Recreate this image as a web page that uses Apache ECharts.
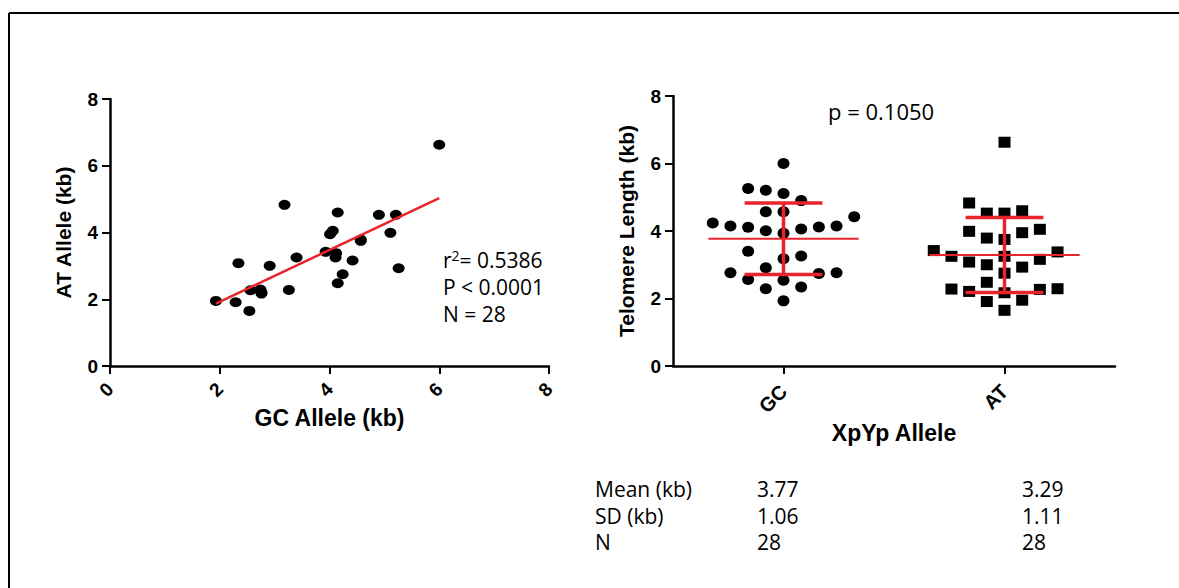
<!DOCTYPE html>
<html>
<head>
<meta charset="utf-8">
<script src="https://cdn.jsdelivr.net/npm/echarts@6/dist/echarts.min.js"></script>
<style>
  html, body { margin: 0; padding: 0; background: #ffffff; }
  #chart { width: 1179px; height: 588px; }
</style>
</head>
<body>
<div id="chart"></div>
<script>
// Paired telomere lengths (kb) per sample: GC allele and AT allele
const gcAllele = [1.93, 2.29, 2.54, 2.34, 2.56, 2.74, 2.76, 2.76, 2.91, 3.18, 3.26, 3.40, 3.93, 4.01,
                  4.06, 4.15, 4.11, 4.12, 4.24, 4.15, 4.42, 4.57, 4.57, 4.90, 5.11, 5.21, 5.26, 6.00];
const atAllele = [1.95, 1.91, 1.65, 3.08, 2.27, 2.29, 2.17, 2.21, 3.00, 4.83, 2.28, 3.25, 3.42, 3.95,
                  4.05, 4.60, 3.25, 3.38, 2.75, 2.48, 3.16, 3.79, 3.75, 4.53, 3.99, 4.53, 2.93, 6.63];

// Linear regression (AT vs GC) and its reported statistics
const fitSlope = 0.777;
const fitIntercept = 0.37;
const fitR2 = '0.5386';
const fitP = '< 0.0001';
const fitN = 28;

// Group comparison
const groupNames = ['GC', 'AT'];
const groupP = '0.1050';
const statLabels = ['Mean (kb)', 'SD (kb)', 'N'];
const groupMeans = [3.77, 3.29];
const groupSDs = [1.06, 1.11];
const groupNs = [28, 28];

// Axis ticks
const axisMin = 0, axisMax = 8, axisStep = 2;

const RED = '#e8232a';
const BOLD = '"Liberation Sans", Arial, sans-serif';
const PLAIN = '"Open Sans", sans-serif';

// Beeswarm-style spreading: each point takes the nearest free column slot
function swarm(values, center, slotWidth, minGap) {
  const order = values.map((v, i) => i).sort((a, b) => values[a] - values[b]);
  const placed = {};
  const out = new Array(values.length);
  order.forEach(i => {
    const v = values[i];
    for (let k = 0; k < 40; k++) {
      const slot = k === 0 ? 0 : (k % 2 ? -Math.ceil(k / 2) : Math.ceil(k / 2));
      const list = placed[slot] || (placed[slot] = []);
      if (list.every(u => Math.abs(u - v) >= minGap)) {
        list.push(v);
        out[i] = [center + slot * slotWidth, v];
        break;
      }
    }
  });
  return out;
}

const scatterPairs = gcAllele.map((g, i) => [g, atAllele[i]]);
const xMinFit = Math.min(...gcAllele), xMaxFit = Math.max(...gcAllele);
const fitLine = [[xMinFit, fitIntercept + fitSlope * xMinFit], [xMaxFit, fitIntercept + fitSlope * xMaxFit]];

const gcSwarm = swarm(gcAllele, 0.5, 0.08, 0.5);
const atSwarm = swarm(atAllele, 1.5, 0.08, 0.5);
const summaryData = groupMeans.map((m, i) => [i + 0.5, m, groupSDs[i]]);

const axisLineStyle = { show: true, lineStyle: { color: '#000', width: 2.5 } };
const axisTickStyle = { show: true, length: 8, lineStyle: { color: '#000', width: 2 } };

function valueYAxis(gridIndex, name) {
  return {
    type: 'value', gridIndex, min: axisMin, max: axisMax, interval: axisStep,
    name, nameLocation: 'middle', nameGap: 36, nameRotate: 90,
    nameTextStyle: { fontFamily: BOLD, fontWeight: 'bold', fontSize: 21, color: '#000' },
    axisLine: axisLineStyle, axisTick: axisTickStyle, splitLine: { show: false },
    axisLabel: { fontFamily: BOLD, fontWeight: 'bold', fontSize: 19, color: '#000', margin: 12 }
  };
}

const chart = echarts.init(document.getElementById('chart'), null, { renderer: 'svg' });

const plainText = (text, left, top, size, lh) => ({
  type: 'text', left, top,
  style: { text, fontFamily: PLAIN, fontSize: size, lineHeight: lh || size + 2, fill: '#000' }
});

const graphics = [
  // frame
  { type: 'line', shape: { x1: 9, y1: 13, x2: 1179, y2: 13 }, style: { stroke: '#000', lineWidth: 2 } },
  { type: 'line', shape: { x1: 9, y1: 13, x2: 9, y2: 588 }, style: { stroke: '#000', lineWidth: 2 } },
  // regression statistics
  {
    type: 'text', left: 443, top: 248,
    style: {
      text: '{t|r}{s|2}{t|= ' + fitR2 + '}',
      rich: {
        t: { fontFamily: PLAIN, fontSize: 21, lineHeight: 23, fill: '#000' },
        s: { fontFamily: PLAIN, fontSize: 14, lineHeight: 23, fill: '#000', verticalAlign: 'top', padding: [0, 0, 10, 0] }
      }
    }
  },
  plainText('P ' + fitP, 443, 275, 21),
  plainText('N = ' + fitN, 443, 302, 21),
  // group comparison p value
  plainText('p = ' + groupP, 828, 99, 22)
];

// summary table under the dot plot
const rowTops = [478, 505, 531];
const colLefts = [595, 757, 1022];
statLabels.forEach((lab, r) => {
  const vals = [groupMeans, groupSDs, groupNs][r];
  graphics.push(plainText(lab, colLefts[0], rowTops[r], 21, 20));
  vals.forEach((v, c) => {
    graphics.push(plainText(r === 2 ? String(v) : v.toFixed(2), colLefts[c + 1], rowTops[r], 21, 20));
  });
});

chart.setOption({
  animation: false,
  backgroundColor: '#ffffff',
  grid: [
    { left: 110, top: 99, width: 439, height: 267 },
    { left: 673, top: 96, width: 442, height: 270 }
  ],
  xAxis: [
    {
      type: 'value', gridIndex: 0, min: axisMin, max: axisMax, interval: axisStep,
      name: 'GC Allele (kb)', nameLocation: 'middle', nameGap: 40,
      nameTextStyle: { fontFamily: BOLD, fontWeight: 'bold', fontSize: 23, color: '#000' },
      axisLine: axisLineStyle, axisTick: axisTickStyle, splitLine: { show: false },
      axisLabel: { fontFamily: BOLD, fontWeight: 'bold', fontSize: 19, color: '#000', rotate: 45, margin: 20 }
    },
    {
      type: 'category', gridIndex: 1, data: groupNames, boundaryGap: true,
      name: 'XpYp Allele', nameLocation: 'middle', nameGap: 55,
      nameTextStyle: { fontFamily: BOLD, fontWeight: 'bold', fontSize: 23, color: '#000' },
      axisLine: axisLineStyle, axisTick: Object.assign({ alignWithLabel: true }, axisTickStyle),
      axisLabel: { fontFamily: BOLD, fontWeight: 'bold', fontSize: 20, color: '#000', rotate: 45, margin: 22 }
    },
    { type: 'value', gridIndex: 1, min: 0, max: 2, show: false }
  ],
  yAxis: [
    valueYAxis(0, 'AT Allele (kb)'),
    valueYAxis(1, 'Telomere Length (kb)')
  ],
  series: [
    {
      type: 'scatter', xAxisIndex: 0, yAxisIndex: 0, data: scatterPairs,
      symbol: 'circle', symbolSize: [12, 10], itemStyle: { color: '#000', opacity: 1 }
    },
    {
      type: 'line', xAxisIndex: 0, yAxisIndex: 0, data: fitLine, symbol: 'none',
      lineStyle: { color: RED, width: 2.5 }, z: 3
    },
    {
      type: 'scatter', xAxisIndex: 2, yAxisIndex: 1, data: gcSwarm,
      symbol: 'circle', symbolSize: [12, 11], itemStyle: { color: '#000', opacity: 1 }
    },
    {
      type: 'scatter', xAxisIndex: 2, yAxisIndex: 1, data: atSwarm,
      symbol: 'rect', symbolSize: [12, 11], itemStyle: { color: '#000', opacity: 1 }
    },
    {
      type: 'custom', xAxisIndex: 2, yAxisIndex: 1, data: summaryData, z: 5,
      renderItem(params, api) {
        const cx = api.value(0), m = api.value(1), sd = api.value(2);
        const seg = (x1, y1, x2, y2, w) => {
          const a = api.coord([x1, y1]), b = api.coord([x2, y2]);
          return { type: 'line', shape: { x1: a[0], y1: a[1], x2: b[0], y2: b[1] },
                   style: { stroke: RED, lineWidth: w } };
        };
        return {
          type: 'group',
          children: [
            seg(cx - 0.34, m, cx + 0.34, m, 2),
            seg(cx, m - sd, cx, m + sd, 3.5),
            seg(cx - 0.176, m + sd, cx + 0.176, m + sd, 3.5),
            seg(cx - 0.176, m - sd, cx + 0.176, m - sd, 3.5)
          ]
        };
      }
    }
  ],
  graphic: graphics
});
</script>
</body>
</html>
